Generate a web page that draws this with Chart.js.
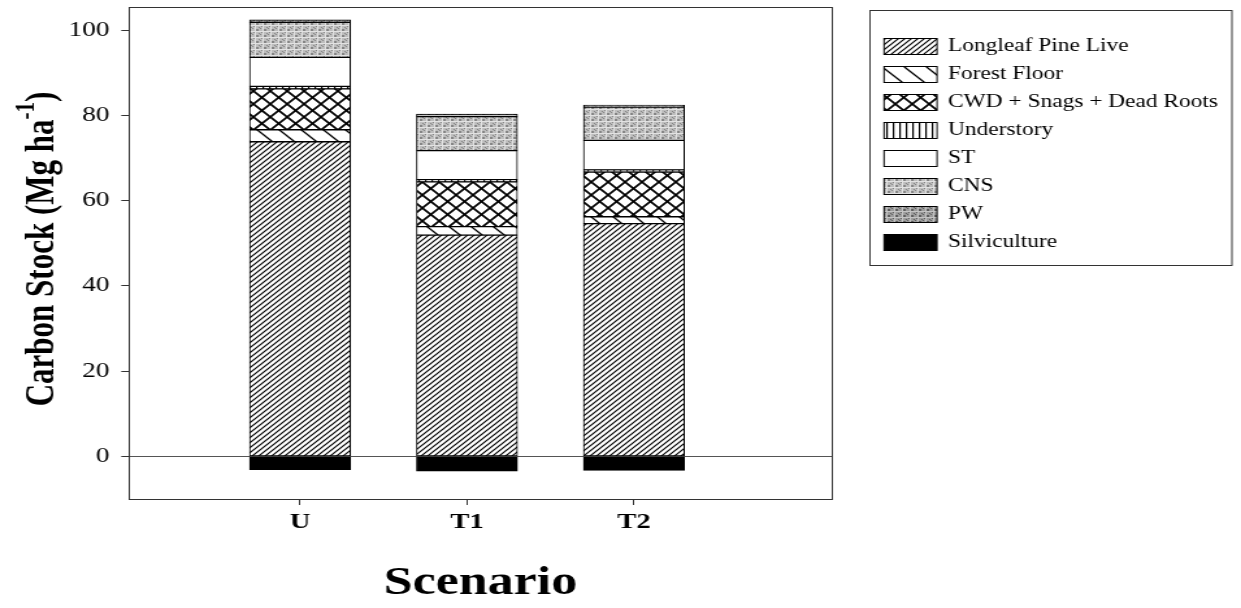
<!DOCTYPE html>
<html><head><meta charset="utf-8">
<script src="https://cdn.jsdelivr.net/npm/chart.js@4.4.0/dist/chart.umd.min.js"></script>
<style>
html,body{margin:0;padding:0;background:#fff;overflow:hidden;width:1241px;height:608px;}
#wrap{position:absolute;left:0;top:0;width:955px;height:608px;transform:scaleX(1.29948);transform-origin:0 0;}
canvas{display:block;}
</style></head><body>
<div id="wrap"><canvas id="c" width="955" height="608"></canvas></div>
<script>
// ---- data ----
const categories = ['U', 'T1', 'T2'];
const seriesNames = ['Longleaf Pine Live', 'Forest Floor', 'CWD + Snags + Dead Roots', 'Understory', 'ST', 'CNS', 'PW', 'Silviculture'];
const longleafPineLive = [73.8, 51.9, 54.6];
const forestFloor = [2.8, 2.0, 1.6];
const cwdSnagsDeadRoots = [9.6, 10.5, 10.5];
const understory = [0.6, 0.5, 0.5];
const st = [6.8, 6.8, 6.9];
const cns = [8.2, 8.0, 7.8];
const pw = [0.6, 0.6, 0.5];
const silviculture = [-3.1, -3.5, -3.3];
const yTicks = [0, 20, 40, 60, 80, 100];

const canvas = document.getElementById('c');
const ctx = canvas.getContext('2d');
const SERIF = '"Liberation Serif", "Times New Roman", serif';

function tile(w, h, draw) {
  const c = document.createElement('canvas');
  c.width = w; c.height = h;
  const g = c.getContext('2d');
  g.fillStyle = '#fff'; g.fillRect(0, 0, w, h);
  g.strokeStyle = '#000';
  draw(g, w, h);
  return ctx.createPattern(c, 'repeat');
}
function diag(g, n, lw, forward) {
  g.lineWidth = lw;
  g.beginPath();
  for (let k = -1; k <= 1; k++) {
    if (forward) { g.moveTo(k * n - 1, n + 1); g.lineTo(k * n + n + 1, -1); }
    else { g.moveTo(k * n - 1, -1); g.lineTo(k * n + n + 1, n + 1); }
  }
  g.stroke();
}
function stipple(base, dark, light) {
  return tile(6, 6, (g) => {
    g.fillStyle = base; g.fillRect(0, 0, 6, 6);
    for (let i = 0; i < 6; i++) for (let j = 0; j < 6; j++) {
      const h = (i * 7 + j * 13 + i * j * 3) % 5;
      if (h === 0) { g.fillStyle = dark; g.fillRect(i, j, 1, 1); }
      else if (h === 3) { g.fillStyle = light; g.fillRect(i, j, 1, 1); }
    }
  });
}
const fills = [
  tile(5, 5, (g, w) => diag(g, w, 1.2, true)),
  tile(17, 17, (g, w) => diag(g, w, 1.3, false)),
  tile(13, 13, (g, w) => { diag(g, w, 1.7, true); diag(g, w, 1.7, false); }),
  tile(5, 5, (g) => { g.fillStyle = '#000'; g.fillRect(2, 0, 1.2, 5); }),
  '#ffffff',
  stipple('#bdbdbd', '#858585', '#e2e2e2'),
  stipple('#9c9c9c', '#5e5e5e', '#c4c4c4'),
  '#000000'
];
const seriesValues = [longleafPineLive, forestFloor, cwdSnagsDeadRoots, understory, st, cns, pw, silviculture];

const datasets = seriesNames.map((name, s) => ({
  label: name,
  data: categories.map((c, i) => ({ x: i + 1, y: seriesValues[s][i] })),
  backgroundColor: fills[s],
  borderColor: '#000',
  borderWidth: 1,
  borderSkipped: false,
  barThickness: 77.7
}));

const PLOT_LEFT = 99.3, PLOT_RIGHT = 640.2, PLOT_TOP = 7, PLOT_BOTTOM = 499;

const decor = {
  id: 'decor',
  afterDraw(chart) {
    const g = chart.ctx;
    const a = chart.chartArea;
    g.save();
    g.strokeStyle = '#333'; g.lineWidth = 1;
    g.strokeRect(Math.round(a.left) + 0.5, Math.round(a.top) + 0.5, Math.round(a.right - a.left), Math.round(a.bottom - a.top));
    // y title with superscript
    g.fillStyle = '#000';
    g.translate(31, 249);
    g.rotate(-Math.PI / 2);
    const big = 'bold 31px ' + SERIF, small = 'bold 21px ' + SERIF;
    const p1 = 'Carbon Stock (Mg ha', p2 = '-1', p3 = ')';
    g.font = big; const w1 = g.measureText(p1).width, w3 = g.measureText(p3).width;
    g.font = small; const w2 = g.measureText(p2).width;
    let x = -(w1 + w2 + w3) / 2;
    g.textBaseline = 'alphabetic';
    g.font = big; g.fillText(p1, x, 10); x += w1;
    g.font = small; g.fillText(p2, x, -5); x += w2;
    g.font = big; g.fillText(p3, x, 10);
    g.restore();
    // x title
    g.save();
    g.fillStyle = '#000';
    g.font = 'bold 40px ' + SERIF;
    g.textAlign = 'center'; g.textBaseline = 'middle';
    g.fillText('Scenario', (a.left + a.right) / 2, 584);
    g.restore();
    // legend
    g.save();
    g.strokeStyle = '#333'; g.lineWidth = 1;
    g.strokeRect(669.5, 10.5, 278.5, 255);
    g.font = '18px ' + SERIF;
    g.textBaseline = 'middle'; g.fillStyle = '#000';
    chart.data.datasets.forEach((ds, i) => {
      const top = 38 + 28 * i;
      g.fillStyle = ds.backgroundColor;
      g.fillRect(680.3, top, 40.8, 16);
      g.strokeStyle = '#000';
      g.strokeRect(680.3, top + 0.5, 40.8, 16);
      g.fillStyle = '#000';
      g.fillText(ds.label, 729.5, top + 8.5);
    });
    g.restore();
  }
};

new Chart(ctx, {
  type: 'bar',
  data: { datasets },
  options: {
    responsive: false,
    animation: false,
    devicePixelRatio: 1,
    layout: { padding: { top: PLOT_TOP, left: 0, right: 955 - PLOT_RIGHT, bottom: 0 } },
    plugins: { legend: { display: false }, tooltip: { enabled: false } },
    scales: {
      x: {
        type: 'linear', stacked: true, min: -0.024, max: 4.186, offset: false,
        afterFit(s) { s.height = 608 - PLOT_BOTTOM; s.paddingLeft = 0; s.paddingRight = 0; },
        afterBuildTicks(s) { s.ticks = categories.map((c, i) => ({ value: i + 1 })); },
        ticks: {
          callback: (v) => categories[v - 1] ?? '',
          font: { family: SERIF, size: 22, weight: 'bold' },
          color: '#000', padding: 4, maxRotation: 0, autoSkip: false
        },
        grid: { offset: false, drawOnChartArea: false, tickLength: 6, tickColor: '#333' },
        border: { display: false }
      },
      y: {
        stacked: true, min: -10, max: 105.4,
        afterFit(s) { s.width = PLOT_LEFT; s.paddingTop = 0; s.paddingBottom = 0; },
        afterBuildTicks(s) { s.ticks = yTicks.map(v => ({ value: v })); },
        ticks: { font: { family: SERIF, size: 21 }, color: '#000', padding: 9 },
        grid: {
          color: (c) => (c.tick && c.tick.value === 0) ? '#555' : 'rgba(0,0,0,0)',
          tickColor: '#333', tickLength: 6, lineWidth: 1
        },
        border: { display: false }
      }
    }
  },
  plugins: [decor]
});
</script>
</body></html>
